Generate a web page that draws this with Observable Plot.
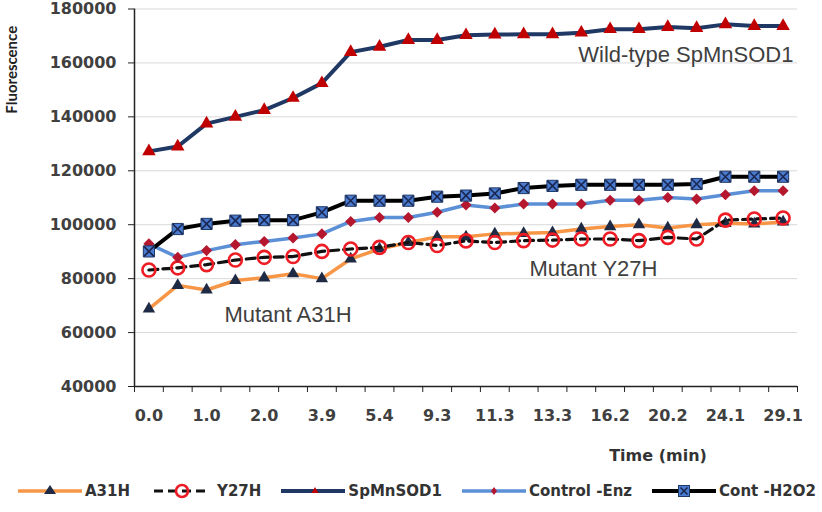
<!DOCTYPE html>
<html><head><meta charset="utf-8">
<script src="https://cdn.jsdelivr.net/npm/d3@7"></script>
<script src="https://cdn.jsdelivr.net/npm/@observablehq/plot@0.6"></script>
<style>
body{margin:0;background:#fff;}
#legend{display:flex;align-items:center;height:42px;padding-left:18px;font:bold 15px "DejaVu Sans";color:#333;}
.item{display:flex;align-items:center;margin-right:20px;}
.item span{margin-left:3px;white-space:nowrap;}
</style></head><body>
<div id="chart"></div>
<div id="legend"></div>
<script>
// x tick labels (every other measurement point is labelled)
const tickLabels = ["0.0","1.0","2.0","3.9","5.4","9.3","11.3","13.3","16.2","20.2","24.1","29.1"];
const yTicks = [40000,60000,80000,100000,120000,140000,160000,180000];

const a31h     = [68800,77500,75800,79300,80300,81800,80000,87300,91000,93400,95500,95500,96600,96800,97100,98400,99300,100000,98800,100000,100500,100300,101000];
const y27h     = [83200,84000,85200,86900,87900,88200,90100,91000,91600,93400,92300,94000,93400,94100,94300,94700,94700,94100,95300,94700,101700,102100,102500];
const spmnsod1 = [127200,129000,137500,140000,142500,147000,152500,164000,166000,168500,168500,170300,170500,170600,170600,171200,172500,172500,173300,172900,174300,173700,173700];
const controlEnz = [92900,87900,90400,92600,93800,95100,96600,101200,102700,102700,104600,107300,106200,107700,107700,107700,109100,109100,110100,109500,111100,112600,112600];
const contH2O2 = [90100,98400,100300,101500,101700,101700,104600,108900,108900,108900,110400,110800,111600,113600,114400,114800,114800,114800,114800,115100,117800,117800,117800];

const seriesNames = ["A31H","Y27H","SpMnSOD1","Control -Enz","Cont -H2O2"];
const notes = [
  {label:"Wild-type SpMnSOD1", i:22.36, v:160500, anchor:"end"},
  {label:"Mutant Y27H", i:13.2, v:81100, anchor:"start"},
  {label:"Mutant A31H", i:2.62, v:64100, anchor:"start"}
];

const rows = vals => vals.map((v,i)=>({i, v}));
const n = a31h.length;
const boundaries = d3.range(n+1).map(k => k - 0.5);
const labelIdx = tickLabels.map((_,k)=>2*k);

const C = {orange:"#f79646", navy:"#1f3864", lblue:"#5b8fd6", red:"#c00000", circ:"#ee1c24", diam:"#b5172f", sq:"#4a7bd0", dark:"#1f2a44"};
const noteStyle = {x:"i", y:"v", text:"label", lineAnchor:"bottom", fontFamily:"Liberation Sans", fontWeight:"normal", fontSize:22, fill:"#404040"};

const plot = Plot.plot({
  width: 822, height: 470,
  marginLeft: 134, marginRight: 25, marginTop: 8.5, marginBottom: 84,
  style: {fontFamily:"DejaVu Sans", fontSize:"16px", fontWeight:"bold", color:"#404040", background:"#fff"},
  x: {type:"linear", domain:[-0.5, n-0.5]},
  y: {domain:[40000,180000]},
  marks: [
    Plot.gridY(yTicks.slice(1), {stroke:"#d9d9d9", strokeOpacity:1, strokeWidth:1}),
    Plot.axisY({ticks:yTicks, tickSize:6, tickPadding:12, tickFormat:d=>String(d), label:null, stroke:"#222", fill:"#404040"}),
    Plot.axisX({ticks:boundaries, tickSize:6, tickFormat:()=>"", label:null, stroke:"#222"}),
    Plot.axisX({ticks:labelIdx, tickSize:0, tickPadding:23, tickFormat:i=>tickLabels[i/2], label:null, fill:"#404040"}),
    Plot.ruleY([40000], {stroke:"#222", strokeWidth:1.5}),
    Plot.ruleX([-0.5], {stroke:"#222", strokeWidth:1.5}),
    // A31H
    Plot.line(rows(a31h), {x:"i", y:"v", stroke:C.orange, strokeWidth:3.5}),
    Plot.dot(rows(a31h), {x:"i", y:"v", symbol:"triangle", r:4.6, fill:C.dark, stroke:"none"}),
    // Y27H
    Plot.line(rows(y27h), {x:"i", y:"v", stroke:"#111", strokeWidth:3.2, strokeDasharray:"9,5"}),
    Plot.dot(rows(y27h), {x:"i", y:"v", symbol:"circle", r:6.5, fill:"none", stroke:C.circ, strokeWidth:2.6}),
    // SpMnSOD1
    Plot.line(rows(spmnsod1), {x:"i", y:"v", stroke:C.navy, strokeWidth:4}),
    Plot.dot(rows(spmnsod1), {x:"i", y:"v", symbol:"triangle", r:5, fill:C.red, stroke:"none"}),
    // Control -Enz
    Plot.line(rows(controlEnz), {x:"i", y:"v", stroke:C.lblue, strokeWidth:3.5}),
    Plot.dot(rows(controlEnz), {x:"i", y:"v", symbol:"diamond2", r:5, fill:C.diam, stroke:"none"}),
    // Cont -H2O2
    Plot.line(rows(contH2O2), {x:"i", y:"v", stroke:"#000", strokeWidth:4}),
    Plot.dot(rows(contH2O2), {x:"i", y:"v", symbol:"square", r:6.3, fill:C.sq, stroke:C.navy, strokeWidth:1}),
    Plot.dot(rows(contH2O2), {x:"i", y:"v", symbol:"times", r:4.6, stroke:"#1a2750", strokeWidth:1.6}),
    // annotations
    Plot.text(notes.filter(d=>d.anchor==="end"), {...noteStyle, textAnchor:"end"}),
    Plot.text(notes.filter(d=>d.anchor==="start"), {...noteStyle, textAnchor:"start"}),
    Plot.text(["Time (min)"], {frameAnchor:"bottom", textAnchor:"middle", dx:192, dy:74, fontSize:16, fontWeight:"bold", fill:"#333"}),
    Plot.text(["Fluorescence"], {frameAnchor:"left", textAnchor:"middle", lineAnchor:"middle", dx:-122, dy:-128, rotate:-90, fontFamily:"Lato", fontSize:15, fontWeight:"bold", fill:"#222"})
  ]
});
document.getElementById("chart").append(plot);

// legend swatches
const sw = {
  "A31H": `<line x1="0" y1="9" x2="64" y2="9" stroke="${C.orange}" stroke-width="3.5"/><path d="M32,3 L38,12 L26,12 Z" fill="${C.dark}"/>`,
  "Y27H": `<line x1="4" y1="9" x2="60" y2="9" stroke="#111" stroke-width="3.2" stroke-dasharray="9,5"/><circle cx="32" cy="9" r="6" fill="none" stroke="${C.circ}" stroke-width="2.6"/>`,
  "SpMnSOD1": `<line x1="0" y1="9" x2="64" y2="9" stroke="${C.navy}" stroke-width="4"/><path d="M34,5 L37.5,11 L30.5,11 Z" fill="${C.red}"/>`,
  "Control -Enz": `<line x1="0" y1="9" x2="64" y2="9" stroke="${C.lblue}" stroke-width="3.5"/><path d="M32,5 L35,9 L32,13 L29,9 Z" fill="${C.diam}"/>`,
  "Cont -H2O2": `<line x1="0" y1="9" x2="64" y2="9" stroke="#000" stroke-width="4"/><rect x="26.5" y="3.5" width="11" height="11" fill="${C.sq}" stroke="${C.navy}"/><path d="M28.5,5.5 L35.5,12.5 M35.5,5.5 L28.5,12.5" stroke="#1a2750" stroke-width="1.6"/>`
};
const leg = d3.select("#legend");
seriesNames.forEach(name => {
  const it = leg.append("div").attr("class","item");
  it.append("svg").attr("width",64).attr("height",18).html(sw[name]);
  it.append("span").text(name);
});
</script>
</body></html>
